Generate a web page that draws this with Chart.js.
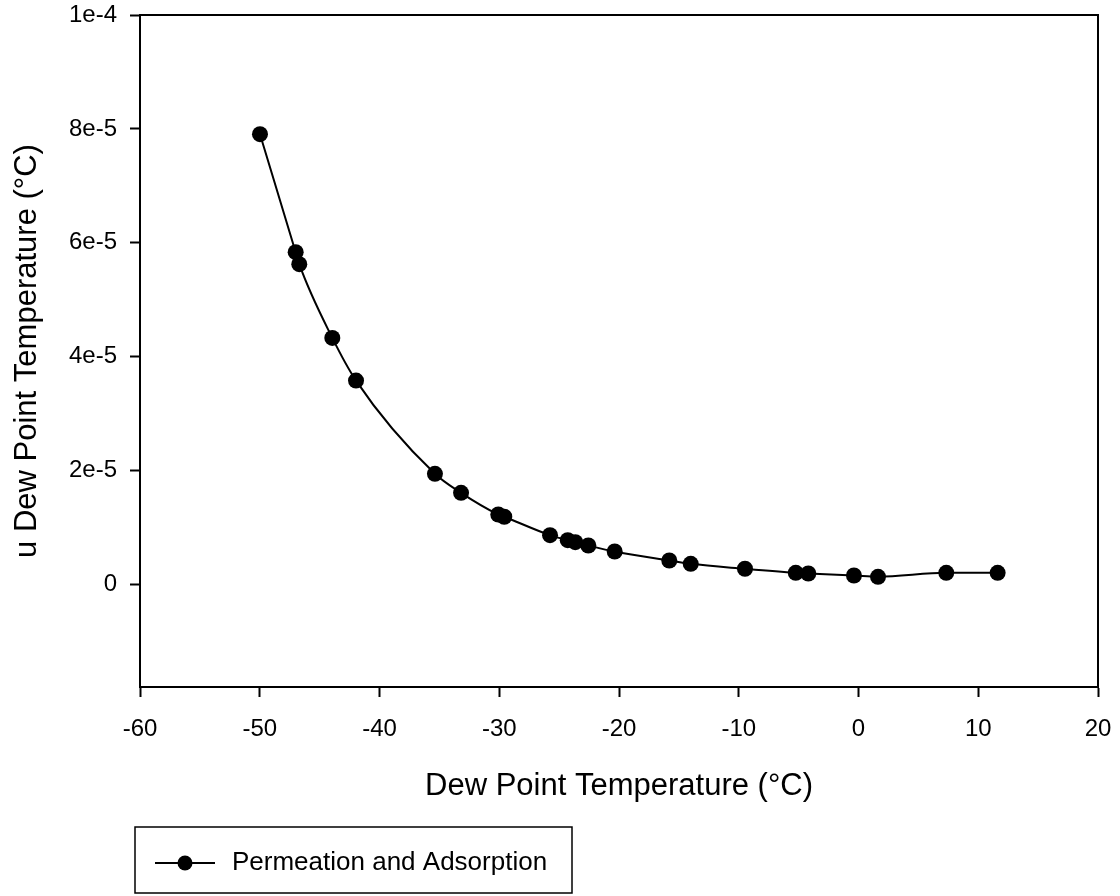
<!DOCTYPE html>
<html>
<head>
<meta charset="utf-8">
<title>Dew Point Temperature</title>
<script src="https://cdn.jsdelivr.net/npm/chart.js@4.4.1/dist/chart.umd.min.js"></script>
<style>
  html, body { margin: 0; padding: 0; background: #fff; }
  #wrap { width: 1120px; height: 896px; }
</style>
</head>
<body>
<div id="wrap"><canvas id="dewChart" width="1120" height="896"></canvas></div>
<script>
// measured dew point (°C) and its uncertainty
const dewPoint = [-49.98, -47.0, -46.7, -43.94, -41.96, -35.37, -33.19, -30.08, -29.58,
  -25.76, -24.28, -23.65, -22.56, -20.36, -15.8, -14.01, -9.48, -5.24, -4.19, -0.38, 1.63, 7.33, 11.62];
const uncertainty = [7.907e-5, 5.835e-5, 5.624e-5, 4.33e-5, 3.58e-5, 1.944e-5, 1.61e-5, 1.229e-5, 1.189e-5,
  8.66e-6, 7.78e-6, 7.43e-6, 6.85e-6, 5.79e-6, 4.21e-6, 3.63e-6, 2.76e-6, 2.05e-6, 1.93e-6, 1.58e-6, 1.35e-6, 2.05e-6, 2.05e-6];
const seriesName = 'Permeation and Adsorption';

const yTickValues = [0, 2e-5, 4e-5, 6e-5, 8e-5, 1e-4];
const yTickLabels = ['0', '2e-5', '4e-5', '6e-5', '8e-5', '1e-4'];

const FONT = "'Liberation Sans', Arial, sans-serif";
Chart.defaults.color = '#000';
Chart.defaults.font.family = FONT;

// closes the plot box and draws the boxed legend under the chart
const frameAndLegend = {
  id: 'frameAndLegend',
  afterDraw(chart) {
    const { ctx, chartArea: a } = chart;
    ctx.save();
    ctx.strokeStyle = '#000';
    ctx.lineWidth = 2;
    ctx.beginPath();
    ctx.moveTo(a.left, a.top);
    ctx.lineTo(a.right, a.top);
    ctx.lineTo(a.right, a.bottom);
    ctx.stroke();

    const ds = chart.data.datasets[0];
    ctx.lineWidth = 1.5;
    ctx.strokeRect(135, 827, 437, 66);
    const ly = 863;
    ctx.lineWidth = 2;
    ctx.beginPath();
    ctx.moveTo(155, ly);
    ctx.lineTo(215, ly);
    ctx.stroke();
    ctx.fillStyle = ds.pointBackgroundColor;
    ctx.beginPath();
    ctx.arc(185, ly, 7.5, 0, Math.PI * 2);
    ctx.fill();
    ctx.fillStyle = '#000';
    ctx.font = '26px ' + FONT;
    ctx.textBaseline = 'middle';
    ctx.fillText(ds.label, 232, ly);
    ctx.restore();
  }
};

new Chart(document.getElementById('dewChart').getContext('2d'), {
  type: 'line',
  data: {
    datasets: [{
      label: seriesName,
      data: dewPoint.map((x, i) => ({ x: x, y: uncertainty[i] })),
      borderColor: '#000',
      borderWidth: 2,
      pointBackgroundColor: '#000',
      pointBorderColor: '#000',
      pointRadius: 8,
      pointBorderWidth: 0,
      cubicInterpolationMode: 'monotone',
      fill: false
    }]
  },
  options: {
    responsive: false,
    animation: false,
    layout: { padding: { top: 15, right: 22, bottom: 91, left: 0 } },
    plugins: {
      legend: { display: false },
      tooltip: { enabled: false }
    },
    scales: {
      x: {
        type: 'linear',
        min: -60,
        max: 20,
        ticks: { stepSize: 10, padding: 18, font: { size: 24 } },
        grid: { drawOnChartArea: false, drawTicks: true, tickLength: 10, tickColor: '#000', tickWidth: 2 },
        border: { display: true, color: '#000', width: 2 },
        title: { display: true, text: 'Dew Point Temperature (°C)', font: { size: 31 }, padding: 0 },
        afterFit(scale) {
          scale.height = 118;
          scale.paddingLeft = 0;
          scale.paddingRight = 0;
        }
      },
      y: {
        type: 'linear',
        min: -1.8e-5,
        max: 1e-4,
        afterBuildTicks(scale) {
          scale.ticks = yTickValues.map(v => ({ value: v }));
        },
        ticks: {
          padding: 13,
          font: { size: 24 },
          callback(value) {
            const i = yTickValues.findIndex(v => Math.abs(v - value) < 1e-9);
            return i >= 0 ? yTickLabels[i] : '';
          }
        },
        grid: { drawOnChartArea: false, drawTicks: true, tickLength: 10, tickColor: '#000', tickWidth: 2 },
        border: { display: true, color: '#000', width: 2 },
        title: { display: true, text: 'u Dew Point Temperature (°C)', font: { size: 31 }, padding: { top: 9, bottom: 0 } },
        afterFit(scale) {
          scale.width = 140;
          scale.paddingTop = 0;
          scale.paddingBottom = 0;
        }
      }
    }
  },
  plugins: [frameAndLegend]
});
</script>
</body>
</html>
